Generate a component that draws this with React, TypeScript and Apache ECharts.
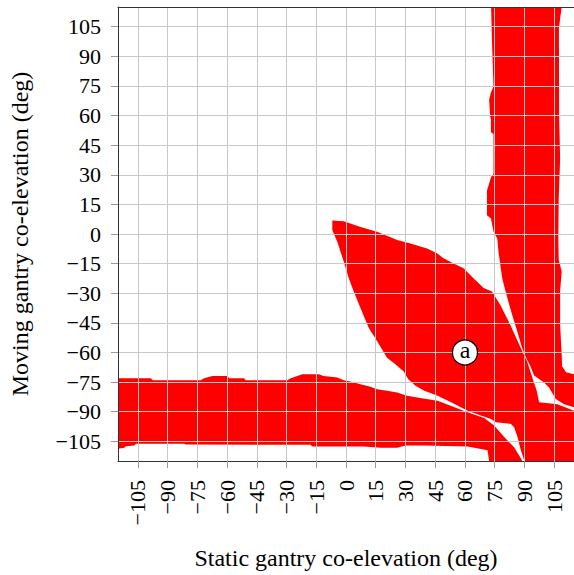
import { useEffect, useRef } from "react";
import * as echarts from "echarts";

// Axis ticks (degrees)
const xTickValues = [-105, -90, -75, -60, -45, -30, -15, 0, 15, 30, 45, 60, 75, 90, 105];
const yTickValues = [-105, -90, -75, -60, -45, -30, -15, 0, 15, 30, 45, 60, 75, 90, 105];
const axisMin = -115;
const axisMax = 115;

// Red (collision) regions, as outlines in [static, moving] degrees
const bottomBand: [number, number][] = [
  [-115, -73.1], [-98.4, -73.1], [-97.5, -74.1], [-73.2, -74.1], [-71.6, -73.1], [-67.3, -71.9],
  [-59.8, -71.9], [-59, -73.1], [-51.4, -73.1], [-50.6, -74.1], [-29.6, -74.1], [-27.9, -73.1],
  [-22, -71.1], [-13.7, -71.1], [-11.3, -71.9], [-4.4, -72.7], [-1.1, -74.1], [2.3, -74.7],
  [7.3, -76.1], [12.3, -77.4], [15.7, -78.6], [20.7, -79.4], [25.8, -80.3], [30.8, -81.9],
  [37.5, -83.1], [46.2, -84.5], [61.3, -90.3], [69.7, -93.2], [74.7, -97], [79.8, -102.9],
  [84.8, -108], [89, -115],
  [72.2, -115], [71.4, -109.6], [61.3, -107.6], [39.5, -107.1], [30, -107.1], [25.8, -108.3],
  [17.4, -108.3], [9, -107.6], [-17, -107.6], [-17.9, -106.8], [-80.8, -106.6], [-81.6, -106.3],
  [-105.9, -106.3], [-106.8, -107.1], [-111, -107.5], [-111.8, -108.3], [-115, -108.8],
];

const lensRegion: [number, number][] = [
  [-6.9, 6.9], [-1.1, 6.4], [7.3, 3.6], [15.7, 1.1], [25.8, -3.1], [32.5, -4.8], [40.9, -7.3],
  [45.9, -9.8], [49.2, -12.3], [54.3, -14.9], [59.3, -17.4], [64.3, -22.4], [69.4, -27.4],
  [73.6, -29.1], [75.2, -31.6], [77.8, -35.8], [80.3, -40.9], [82.8, -45.9], [85.8, -52.6],
  [88.8, -59.1], [91.4, -64.7], [92.9, -69.4], [94.5, -74.4], [96.2, -79.4], [97.4, -85.3],
  [106.6, -86.2], [115, -89.5], [115, -115], [90, -115], [88.2, -109.6], [86.5, -102.9],
  [84.8, -97.9], [83.2, -96.2], [75.6, -95.4], [73.1, -93.7], [68, -92], [61.3, -89.5],
  [53, -85.3], [46.2, -81.9], [39.5, -79.4], [35, -76.9], [31.5, -73.7], [29.1, -69.7],
  [24.9, -66], [20.7, -62.7], [15.7, -54.3], [11.5, -47.6], [7.3, -37.5], [3.9, -29.1],
  [1.4, -22.4], [-1.1, -14], [-4.4, -3.9], [-6.9, 1.9],
];

const rightBand: [number, number][] = [
  [73.2, 115], [108.8, 115], [108, 109], [107.4, 104], [107.5, 60], [108, 38], [107.3, 18],
  [107.1, -2], [107.3, -13], [108.8, -19], [108, -29], [108, -46], [108.8, -61], [109, -67],
  [111, -70], [115, -71], [115, -87.8], [110, -86.2], [105.8, -83.6], [102.4, -77.8],
  [99.9, -75.2], [94.9, -71.7], [92.9, -66.7], [90.8, -62.7], [88.8, -57.6], [86.3, -49.1],
  [83.8, -40.9], [81.8, -34], [80.3, -28.4], [78.8, -22.4], [77.8, -15.4], [76.9, -9],
  [76.3, -2.3], [74.4, 1.1], [73.1, 7.8], [71.1, 9.5], [71.1, 22], [71.9, 24.6], [73.1, 28.8],
  [74.4, 30.4], [74.4, 50.6], [73.1, 51.6], [73.1, 58.1], [72.7, 59.8], [72.2, 68.2],
  [73.1, 71.6], [74.4, 74.9], [73.6, 98.4],
];

const regions = [bottomBand, lensRegion, rightBand];

const markerPoint: [number, number] = [60, -60];
const markerLabel = "a";

const xAxisTitle = "Static gantry co-elevation (deg)";
const yAxisTitle = "Moving gantry co-elevation (deg)";

const serif = "'Liberation Serif', 'DejaVu Serif', serif";
const fmt = (v: number) => (v < 0 ? "\u2212" + Math.abs(v) : String(v));

export default function App() {
  const ref = useRef<HTMLDivElement>(null);
  useEffect(() => {
    if (!ref.current) return;
    const chart = echarts.init(ref.current, undefined, { renderer: "svg" });
    const frame = { show: true, onZero: false, lineStyle: { color: "#333", width: 1 } };
    chart.setOption({
      animation: false,
      backgroundColor: "#fff",
      grid: { left: 117, top: 7, width: 457, height: 457, containLabel: false },
      xAxis: [
        {
          type: "value",
          min: axisMin,
          max: axisMax,
          z: 5,
          axisLine: frame,
          axisTick: { show: true, customValues: xTickValues, length: 7, lineStyle: { color: "#999" } },
          axisLabel: {
            customValues: xTickValues,
            formatter: fmt,
            rotate: 90,
            margin: 19,
            color: "#000",
            fontFamily: serif,
            fontSize: 22,
          },
          splitLine: { show: true, lineStyle: { color: "#c8c8c8", width: 1 } },
          name: xAxisTitle,
          nameLocation: "middle",
          nameGap: 85,
          nameTextStyle: { color: "#000", fontFamily: serif, fontSize: 24 },
        },
        {
          type: "value",
          min: axisMin,
          max: axisMax,
          position: "top",
          z: 5,
          axisLine: frame,
          axisTick: { show: false },
          axisLabel: { show: false },
          splitLine: { show: false },
        },
      ],
      yAxis: [
        {
          type: "value",
          min: axisMin,
          max: axisMax,
          z: 5,
          axisLine: frame,
          axisTick: { show: true, customValues: yTickValues, length: 7, lineStyle: { color: "#999" } },
          axisLabel: {
            customValues: yTickValues,
            formatter: fmt,
            margin: 17,
            color: "#000",
            fontFamily: serif,
            fontSize: 22,
          },
          splitLine: { show: true, lineStyle: { color: "#c8c8c8", width: 1 } },
          name: yAxisTitle,
          nameLocation: "middle",
          nameRotate: 90,
          nameGap: 86,
          nameTextStyle: { color: "#000", fontFamily: serif, fontSize: 24 },
        },
        {
          type: "value",
          min: axisMin,
          max: axisMax,
          position: "right",
          z: 5,
          axisLine: frame,
          axisTick: { show: false },
          axisLabel: { show: false },
          splitLine: { show: false },
        },
      ],
      series: [
        {
          type: "custom",
          z: 1,
          clip: true,
          silent: true,
          xAxisIndex: 0,
          yAxisIndex: 0,
          data: regions.map((r) => r[0]),
          renderItem: (params: any, api: any) => {
            const poly = regions[params.dataIndex];
            return {
              type: "polygon",
              shape: { points: poly.map((p) => api.coord(p)) },
              style: { fill: "#ff0000", stroke: "none" },
            };
          },
        },
        {
          type: "scatter",
          z: 10,
          silent: true,
          xAxisIndex: 0,
          yAxisIndex: 0,
          data: [markerPoint],
          symbol: "circle",
          symbolSize: 25,
          itemStyle: { color: "#fff", borderColor: "#000", borderWidth: 1.2, opacity: 1 },
          label: {
            show: true,
            position: "inside",
            formatter: markerLabel,
            color: "#000",
            fontFamily: serif,
            fontSize: 24,
            offset: [0, -2],
          },
        },
      ],
    });
    return () => chart.dispose();
  }, []);
  return (
    <div
      ref={ref}
      style={{ position: "absolute", left: 0, top: 0, width: 574, height: 575 }}
    />
  );
}
